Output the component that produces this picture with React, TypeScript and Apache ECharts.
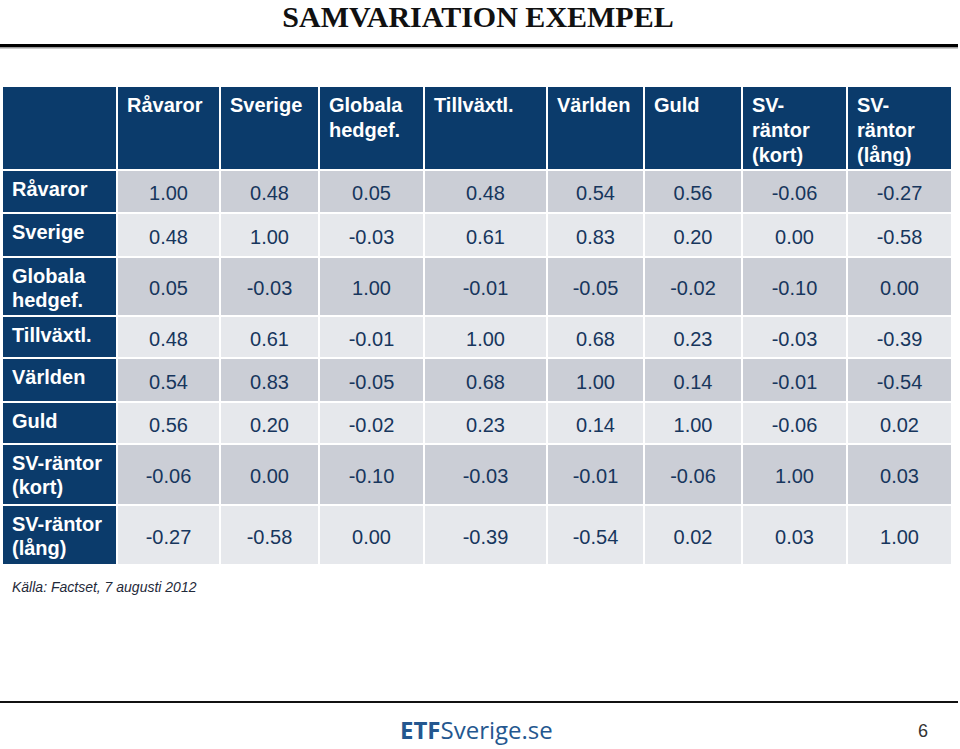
import React, { useEffect, useRef } from 'react';
import * as echarts from 'echarts';

// ---- content ----
const TITLE = 'SAMVARIATION EXEMPEL';
const SOURCE = 'Källa: Factset, 7 augusti 2012';
const PAGE_NO = '6';
const LOGO_BOLD = 'ETF';
const LOGO_REG = 'Sverige.se';

const ROW_LABELS = ['Råvaror', 'Sverige', 'Globala\nhedgef.', 'Tillväxtl.', 'Världen', 'Guld', 'SV-räntor\n(kort)', 'SV-räntor\n(lång)'];
const COL_LABELS = ['Råvaror', 'Sverige', 'Globala\nhedgef.', 'Tillväxtl.', 'Världen', 'Guld', 'SV-\nräntor\n(kort)', 'SV-\nräntor\n(lång)'];

const R_RAVAROR = [1.0, 0.48, 0.05, 0.48, 0.54, 0.56, -0.06, -0.27];
const R_SVERIGE = [0.48, 1.0, -0.03, 0.61, 0.83, 0.2, 0.0, -0.58];
const R_GLOBALA = [0.05, -0.03, 1.0, -0.01, -0.05, -0.02, -0.1, 0.0];
const R_TILLVAXTL = [0.48, 0.61, -0.01, 1.0, 0.68, 0.23, -0.03, -0.39];
const R_VARLDEN = [0.54, 0.83, -0.05, 0.68, 1.0, 0.14, -0.01, -0.54];
const R_GULD = [0.56, 0.2, -0.02, 0.23, 0.14, 1.0, -0.06, 0.02];
const R_SV_KORT = [-0.06, 0.0, -0.1, -0.03, -0.01, -0.06, 1.0, 0.03];
const R_SV_LANG = [-0.27, -0.58, 0.0, -0.39, -0.54, 0.02, 0.03, 1.0];
const CORR = [R_RAVAROR, R_SVERIGE, R_GLOBALA, R_TILLVAXTL, R_VARLDEN, R_GULD, R_SV_KORT, R_SV_LANG];

// ---- layout (table column widths / row heights, in axis units) ----
const COL_W = [115, 103, 99, 105, 123, 97, 98, 105, 105];
const ROW_H = [84, 43, 44, 59, 42, 44, 42, 61, 60];
const GAP = 2;

const NAVY = '#0b3b6b';
const GRAY_DARK = '#cbced6';
const GRAY_LIGHT = '#e6e8ec';
const NUM_COLOR = '#17365d';
const SANS = 'Arial, "Liberation Sans", Helvetica, sans-serif';

function cumulative(a: number[]): number[] {
  const out = [0];
  a.forEach((v) => out.push(out[out.length - 1] + v));
  return out;
}

export default function App() {
  const ref = useRef<HTMLDivElement>(null);

  useEffect(() => {
    if (!ref.current) return;
    const chart = echarts.init(ref.current, null, { renderer: 'svg' });
    const cx = cumulative(COL_W);
    const cy = cumulative(ROW_H);

    const cells: number[][] = [];
    for (let r = 0; r <= CORR.length; r++) {
      for (let c = 0; c <= COL_LABELS.length; c++) {
        cells.push([c, r]);
      }
    }

    const renderItem = (params: any, api: any) => {
      const c = api.value(0);
      const r = api.value(1);
      const p0 = api.coord([cx[c], cy[r]]);
      const p1 = api.coord([cx[c + 1], cy[r + 1]]);
      const x = p0[0];
      const y = p0[1];
      const w = p1[0] - p0[0] - GAP;
      const h = p1[1] - p0[1] - GAP;
      const isHead = r === 0 || c === 0;
      const fill = isHead ? NAVY : r % 2 === 1 ? GRAY_DARK : GRAY_LIGHT;
      const children: any[] = [
        { type: 'rect', shape: { x, y, width: w, height: h }, style: { fill } },
      ];
      if (r === 0 && c > 0) {
        children.push({
          type: 'text',
          style: {
            text: COL_LABELS[c - 1],
            x: x + 9,
            y: y + 5,
            align: 'left',
            verticalAlign: 'top',
            lineHeight: 25,
            fill: '#ffffff',
            fontSize: 20,
            fontWeight: 'bold',
            fontFamily: SANS,
          },
        });
      } else if (c === 0 && r > 0) {
        children.push({
          type: 'text',
          style: {
            text: ROW_LABELS[r - 1],
            x: x + 9,
            y: y + 5.5,
            align: 'left',
            verticalAlign: 'top',
            lineHeight: 24.5,
            fill: '#ffffff',
            fontSize: 20,
            fontWeight: 'bold',
            fontFamily: SANS,
          },
        });
      } else if (r > 0 && c > 0) {
        const v = CORR[r - 1][c - 1];
        children.push({
          type: 'text',
          style: {
            text: v.toFixed(2),
            x: x + w / 2,
            y: y + h / 2 + 1.5,
            align: 'center',
            verticalAlign: 'middle',
            fill: NUM_COLOR,
            fontSize: 20,
            fontFamily: SANS,
          },
        });
      }
      return { type: 'group', children };
    };

    chart.setOption({
      animation: false,
      grid: { left: 3, top: 87, width: cx[cx.length - 1], height: cy[cy.length - 1] },
      xAxis: { type: 'value', min: 0, max: cx[cx.length - 1], show: false },
      yAxis: { type: 'value', min: 0, max: cy[cy.length - 1], inverse: true, show: false },
      series: [
        {
          type: 'custom',
          coordinateSystem: 'cartesian2d',
          data: cells,
          encode: { x: 0, y: 1 },
          renderItem,
          silent: true,
          clip: false,
        },
      ],
      graphic: [
        {
          type: 'text',
          x: 478,
          y: 16,
          style: {
            text: TITLE,
            align: 'center',
            verticalAlign: 'middle',
            fill: '#111',
            fontSize: 30,
            fontWeight: 'bold',
            fontFamily: '"Liberation Serif", "Times New Roman", serif',
          },
        },
        { type: 'rect', shape: { x: 0, y: 44, width: 958, height: 3 }, style: { fill: '#000' } },
        { type: 'rect', shape: { x: 0, y: 47, width: 958, height: 1.5 }, style: { fill: '#9a9a9a' } },
        {
          type: 'text',
          x: 12,
          y: 587,
          style: {
            text: SOURCE,
            align: 'left',
            verticalAlign: 'middle',
            fill: '#1f2a3a',
            fontSize: 14,
            fontStyle: 'italic',
            fontFamily: SANS,
          },
        },
        { type: 'rect', shape: { x: 0, y: 701, width: 958, height: 2 }, style: { fill: '#111' } },
        {
          type: 'text',
          x: 400,
          y: 729,
          style: {
            text: '{b|' + LOGO_BOLD + '}{r|' + LOGO_REG + '}',
            align: 'left',
            verticalAlign: 'middle',
            rich: {
              b: { fontSize: 24, fontWeight: 'bold', fill: '#24578f', fontFamily: '"Open Sans", sans-serif' },
              r: { fontSize: 24, fill: '#24578f', fontFamily: '"Open Sans", sans-serif' },
            },
          },
        },
        {
          type: 'text',
          x: 923,
          y: 731,
          style: {
            text: PAGE_NO,
            align: 'center',
            verticalAlign: 'middle',
            fill: '#333',
            fontSize: 18,
            fontFamily: SANS,
          },
        },
      ],
    });

    return () => chart.dispose();
  }, []);

  return (
    <div
      ref={ref}
      style={{ position: 'absolute', left: 0, top: 0, width: 960, height: 749, background: '#fff' }}
    />
  );
}
